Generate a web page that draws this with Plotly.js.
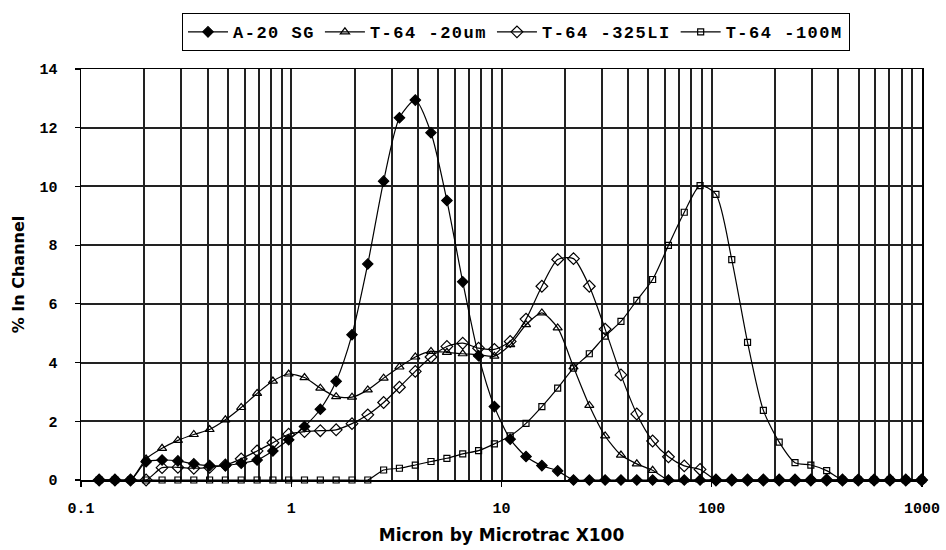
<!DOCTYPE html>
<html>
<head>
<meta charset="utf-8">
<script src="https://cdn.plot.ly/plotly-3.0.1.min.js"></script>
<style>
html,body{margin:0;padding:0;background:#fff;}
#chart{width:946px;height:550px;}
text.legendtext{letter-spacing:1.5px;}
</style>
</head>
<body>
<div id="chart"></div>
<script>
// Channel sizes (Micron by Microtrac X100)
var channels = [0.122,0.145,0.172,0.204,0.243,0.289,0.344,0.409,0.486,0.578,0.688,0.818,0.972,1.156,1.375,1.635,1.945,2.312,2.75,3.27,3.89,4.62,5.5,6.54,7.78,9.25,11,13.08,15.56,18.5,22,26.16,31.11,37,44,52.33,62.23,74,88,104.7,124.5,148,176,209.3,248.9,296,352,418.6,497.8,592,704,837,995.6];

var seriesNames = ["A-20 SG","T-64 -20um","T-64 -325LI","T-64 -100M"];

var a20sg = [0,0,0,0.62,0.68,0.65,0.55,0.49,0.49,0.57,0.68,0.99,1.37,1.82,2.41,3.36,4.95,7.36,10.18,12.34,12.94,11.83,9.52,6.75,4.23,2.50,1.39,0.80,0.49,0.31,0,0,0,0,0,0,0,0,0,0,0,0,0,0,0,0,0,0,0,0,0,0,0];

var t64_20um = [0,0,0,0.72,1.08,1.35,1.55,1.72,2.05,2.47,2.95,3.37,3.61,3.49,3.13,2.84,2.82,3.07,3.47,3.85,4.19,4.38,4.35,4.30,4.27,4.22,4.61,5.29,5.69,5.18,3.85,2.54,1.50,0.85,0.55,0.33,0,0,0,0,0,0,0,0,0,0,0,0,0,0,0,0,0];

var t64_325li = [0,0,0,0,0.42,0.43,0.40,0.43,0.51,0.72,0.99,1.27,1.56,1.65,1.68,1.71,1.92,2.22,2.64,3.16,3.70,4.19,4.55,4.66,4.49,4.45,4.72,5.48,6.60,7.51,7.54,6.60,5.14,3.58,2.25,1.33,0.79,0.48,0.36,0,0,0,0,0,0,0,0,0,0,0,0,0,0];

var t64_100m = [0,0,0,0,0,0,0,0,0,0,0,0,0,0,0,0,0,0,0.34,0.40,0.51,0.63,0.74,0.89,1.00,1.23,1.50,1.93,2.50,3.13,3.81,4.30,4.90,5.40,6.12,6.83,7.99,9.12,10.03,9.73,7.51,4.69,2.37,1.29,0.59,0.51,0.32,0,0,0,0,0,0];

var xTickVals = [0.1,1,10,100,1000];
var xTickText = ["0.1","1","10","100","1000"];
var yTickVals = [0,2,4,6,8,10,12,14];

// minor log grid: 2..9 within each decade
var xMinorVals = [];
for (var k = -1; k < 3; k++) {
  for (var d = 2; d <= 9; d++) { xMinorVals.push(d * Math.pow(10, k)); }
}

var seriesValues = [a20sg, t64_20um, t64_325li, t64_100m];
var symbols = ["diamond","triangle-up-open","diamond-open","square-open"];
var sizes = [8,8,9,6];

var traces = seriesValues.map(function(v,i){
  return {
    type:"scatter",
    mode:"lines+markers",
    name:seriesNames[i],
    x:channels,
    y:v,
    cliponaxis:false,
    line:{color:"#000",width:1.2,shape:"spline",smoothing:0.7},
    marker:{symbol:symbols[i],size:sizes[i],color:"#000",line:{color:"#000",width:1.2}}
  };
});

var tickFont = {family:"Liberation Mono, DejaVu Sans Mono, monospace",size:15,color:"#000",weight:"bold"};
var titleFont = {family:"DejaVu Sans, Verdana, sans-serif",size:17,color:"#000",weight:"bold"};
var gridCol = "#222";

var layout = {
  width:946,height:550,
  paper_bgcolor:"#fff",plot_bgcolor:"#fff",
  margin:{l:81,r:24,t:69,b:70},
  showlegend:true,
  legend:{
    orientation:"h",x:0.517,xanchor:"center",y:1.136,yanchor:"top",
    bordercolor:"#000",borderwidth:1.2,bgcolor:"#fff",
    font:{family:"Liberation Mono, DejaVu Sans Mono, monospace",size:17,color:"#000",weight:"bold"},
    itemwidth:40,traceorder:"normal"
  },
  xaxis:{
    type:"log",range:[-1,3],
    tickvals:xTickVals,ticktext:xTickText,
    ticks:"outside",ticklen:5,tickcolor:"#000",tickwidth:1.2,
    showgrid:true,gridcolor:gridCol,gridwidth:2,
    showline:true,linecolor:"#000",linewidth:1.5,mirror:true,
    zeroline:false,
    tickfont:tickFont,
    ticklabelstandoff:8,
    minor:{tickmode:"array",tickvals:xMinorVals,showgrid:true,gridcolor:gridCol,gridwidth:2,ticks:""},
    title:{text:"Micron by Microtrac X100",font:titleFont,standoff:12}
  },
  yaxis:{
    range:[0,14],tickvals:yTickVals,
    ticks:"outside",ticklen:5,tickcolor:"#000",tickwidth:1.2,
    showgrid:true,gridcolor:gridCol,gridwidth:2,
    showline:true,linecolor:"#000",linewidth:1.5,mirror:true,
    zeroline:false,
    tickfont:tickFont,
    ticklabelstandoff:14,
    title:{text:"% In Channel",font:{family:"DejaVu Sans, Verdana, sans-serif",size:16,color:"#000",weight:"bold"},standoff:11}
  }
};

Plotly.newPlot("chart",traces,layout,{displayModeBar:false,staticPlot:true});
</script>
</body>
</html>
